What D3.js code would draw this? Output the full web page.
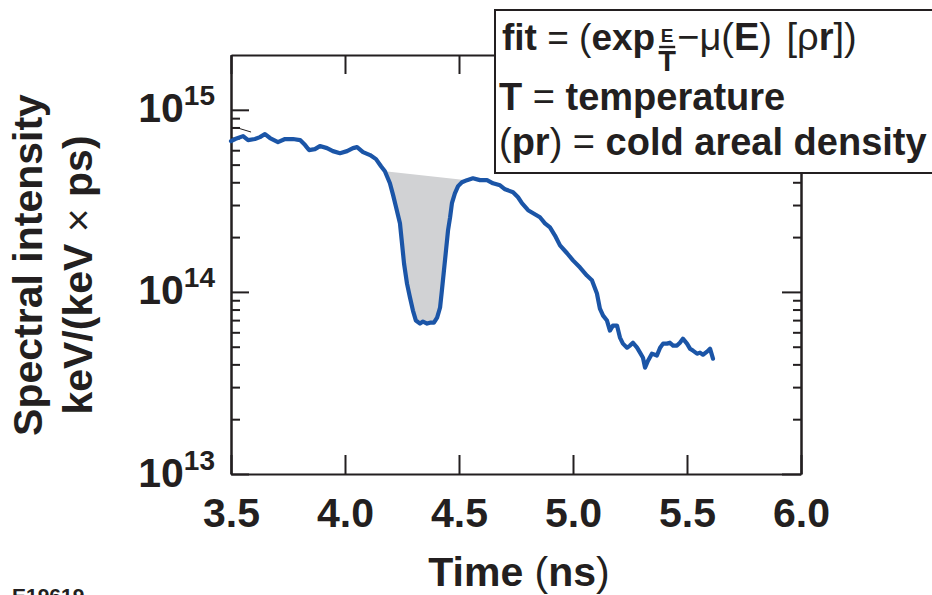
<!DOCTYPE html>
<html>
<head>
<meta charset="utf-8">
<script src="https://cdn.jsdelivr.net/npm/d3@7"></script>
<style>
  html, body { margin: 0; padding: 0; background: #fff; }
  svg { display: block; }
  text { font-family: "Liberation Sans", Arial, Helvetica, sans-serif; }
</style>
</head>
<body>
<svg id="chart" width="932" height="595"></svg>
<script>
// Measured spectral intensity, keV/(keV x ps), against time in ns
const timeNs = [
  3.500, 3.518, 3.553, 3.575, 3.605, 3.627, 3.649, 3.671, 3.706, 3.737,
  3.772, 3.803, 3.825, 3.842, 3.868, 3.890, 3.921, 3.947, 3.978, 4.009,
  4.035, 4.053, 4.079, 4.110, 4.136, 4.158, 4.175, 4.197, 4.211, 4.224,
  4.241, 4.250, 4.259, 4.272, 4.285, 4.298, 4.311, 4.329, 4.342, 4.360,
  4.373, 4.390, 4.404, 4.417, 4.425, 4.434, 4.443, 4.452, 4.461, 4.469,
  4.482, 4.496, 4.513, 4.535, 4.561, 4.592, 4.623, 4.649, 4.680, 4.702,
  4.737, 4.759, 4.776, 4.803, 4.842, 4.855, 4.877, 4.899, 4.921, 4.943,
  4.974, 5.000, 5.031, 5.061, 5.083, 5.105, 5.118, 5.132, 5.149, 5.162,
  5.175, 5.193, 5.206, 5.219, 5.237, 5.250, 5.263, 5.281, 5.294, 5.307,
  5.316, 5.329, 5.346, 5.368, 5.382, 5.395, 5.412, 5.425, 5.439, 5.456,
  5.469, 5.482, 5.500, 5.513, 5.526, 5.544, 5.557, 5.570, 5.588, 5.601,
  5.614
];
const intensity = [
  6.73e14, 6.91e14, 7.17e14, 6.82e14, 6.91e14, 7.08e14, 7.36e14, 7.00e14, 6.65e14, 6.91e14,
  6.91e14, 6.82e14, 6.40e14, 6.01e14, 6.08e14, 6.32e14, 6.16e14, 5.93e14, 5.78e14, 5.93e14,
  6.16e14, 6.24e14, 5.86e14, 5.64e14, 5.36e14, 4.90e14, 4.60e14, 3.95e14, 3.40e14, 2.92e14,
  2.38e14, 1.85e14, 1.43e14, 1.11e14, 9.32e13, 7.90e13, 6.96e13, 6.70e13, 6.87e13, 6.70e13,
  6.78e13, 6.78e13, 7.23e13, 8.21e13, 1.018e14, 1.31e14, 1.69e14, 2.18e14, 2.57e14, 3.07e14,
  3.48e14, 3.81e14, 4.00e14, 4.11e14, 4.21e14, 4.11e14, 4.11e14, 3.95e14, 3.85e14, 3.66e14,
  3.53e14, 3.31e14, 3.07e14, 2.81e14, 2.63e14, 2.57e14, 2.38e14, 2.26e14, 2.04e14, 1.80e14,
  1.63e14, 1.49e14, 1.36e14, 1.23e14, 1.16e14, 9.80e13, 8.10e13, 7.41e13, 6.96e13, 6.13e13,
  6.53e13, 6.53e13, 5.61e13, 5.20e13, 4.94e13, 5.07e13, 5.26e13, 4.94e13, 4.64e13, 4.35e13,
  3.84e13, 4.19e13, 4.58e13, 4.47e13, 4.94e13, 5.20e13, 5.20e13, 5.26e13, 5.07e13, 5.07e13,
  5.26e13, 5.54e13, 5.20e13, 4.88e13, 4.76e13, 4.58e13, 4.64e13, 4.52e13, 4.70e13, 4.88e13,
  4.30e13
];

// Axis ticks
const xTicks = [3.5, 4.0, 4.5, 5.0, 5.5, 6.0];
const yMajor = [1e13, 1e14, 1e15];
const yMinor = [2e13, 3e13, 4e13, 5e13, 6e13, 7e13, 8e13, 9e13,
                2e14, 3e14, 4e14, 5e14, 6e14, 7e14, 8e14, 9e14];
const yMajorExp = ["13", "14", "15"];

// Absorption dip bounded by the fitted continuum chord
const dipWindow = [4.175, 4.535];
// Short fit segment at the start of the record
const fitStubT = [3.522, 3.588];
const fitStubV = [8.0e14, 7.55e14];

const AXIS = "#231f20";
const LINE = "#1b55a7";
const FONT = '"Liberation Sans", Arial, Helvetica, sans-serif';

const svg = d3.select("#chart");
const plotL = 231, plotR = 801, plotT = 55, plotB = 474;

const x = d3.scaleLinear().domain([3.5, 6.0]).range([plotL, plotR]);
const y = d3.scaleLog().domain([1e13, 2e15]).range([plotB, plotT]);

const data = timeNs.map((t, i) => ({ t, v: intensity[i] }));

// Shaded dip: curve between the window ends, closed by a straight chord
const dip = data.filter(d => d.t >= dipWindow[0] && d.t <= dipWindow[1]);
svg.append("path")
  .attr("d", d3.line().x(d => x(d.t)).y(d => y(d.v))(dip) + "Z")
  .attr("fill", "#d1d2d4")
  .attr("stroke", "none");

function styleAxis(g) {
  g.attr("font-family", FONT).attr("font-weight", "bold").attr("fill", AXIS);
  g.selectAll("path, line").attr("stroke", AXIS).attr("stroke-width", 2);
}

// Bottom axis with labels
const gx = svg.append("g").attr("transform", `translate(0,${plotB})`)
  .call(d3.axisBottom(x).tickValues(xTicks).tickSizeInner(-19).tickSizeOuter(0)
    .tickPadding(24).tickFormat(d3.format(".1f")));
styleAxis(gx);
gx.attr("font-size", 41);
gx.selectAll("text").attr("fill", AXIS);

// Top axis
const gxt = svg.append("g").attr("transform", `translate(0,${plotT})`)
  .call(d3.axisTop(x).tickValues(xTicks).tickSizeInner(-19).tickSizeOuter(0).tickFormat(""));
styleAxis(gxt);

// Left axis: major ticks with power-of-ten labels
const gy = svg.append("g").attr("transform", `translate(${plotL},0)`)
  .call(d3.axisLeft(y).tickValues(yMajor).tickSizeInner(-18).tickSizeOuter(0)
    .tickPadding(16).tickFormat(() => ""));
styleAxis(gy);
gy.selectAll(".tick text").each(function (d, i) {
  const t = d3.select(this).attr("fill", AXIS).attr("dy", null).attr("y", 12);
  t.append("tspan").attr("font-size", 41).text("10");
  t.append("tspan").attr("font-size", 28).attr("dy", -17).text(yMajorExp[i]);
});
const gym = svg.append("g").attr("transform", `translate(${plotL},0)`)
  .call(d3.axisLeft(y).tickValues(yMinor).tickSizeInner(-9).tickSizeOuter(0).tickFormat(""));
styleAxis(gym);

// Right axis
const gr = svg.append("g").attr("transform", `translate(${plotR},0)`)
  .call(d3.axisRight(y).tickValues(yMajor).tickSizeInner(-19).tickSizeOuter(0).tickFormat(""));
styleAxis(gr);
const grm = svg.append("g").attr("transform", `translate(${plotR},0)`)
  .call(d3.axisRight(y).tickValues(yMinor).tickSizeInner(-8).tickSizeOuter(0).tickFormat(""));
styleAxis(grm);

// Fit segment
svg.append("path")
  .attr("d", d3.line().x((d, i) => x(fitStubT[i])).y(d => y(d))(fitStubV))
  .attr("stroke", AXIS).attr("stroke-width", 1).attr("fill", "none");

// Measured curve
svg.append("path")
  .attr("d", d3.line().x(d => x(d.t)).y(d => y(d.v))(data))
  .attr("fill", "none")
  .attr("stroke", LINE)
  .attr("stroke-width", 4.2)
  .attr("stroke-linejoin", "round")
  .attr("stroke-linecap", "round");

// Axis titles
svg.append("text")
  .attr("x", (plotL + plotR) / 2 + 3).attr("y", 586)
  .attr("text-anchor", "middle").attr("font-size", 41).attr("font-weight", "bold")
  .attr("fill", AXIS)
  .call(t => {
    t.append("tspan").text("Time ");
    t.append("tspan").attr("font-weight", "normal").text("(");
    t.append("tspan").text("ns");
    t.append("tspan").attr("font-weight", "normal").text(")");
  });

svg.append("text")
  .attr("transform", "translate(42,265) rotate(-90)")
  .attr("text-anchor", "middle").attr("font-size", 41).attr("font-weight", "bold")
  .attr("fill", AXIS).text("Spectral intensity");
svg.append("text")
  .attr("transform", "translate(92,275) rotate(-90)")
  .attr("text-anchor", "middle").attr("font-size", 41).attr("font-weight", "bold")
  .attr("fill", AXIS)
  .call(t => {
    t.append("tspan").text("keV/(keV ");
    t.append("tspan").attr("font-weight", "normal").text("\u00d7");
    t.append("tspan").text(" ps)");
  });

// Figure id
svg.append("text").attr("x", 12).attr("y", 603)
  .attr("font-size", 21).attr("font-weight", "bold").attr("fill", AXIS).text("E19619");

// Legend box
const lg = svg.append("g");
lg.append("rect").attr("x", 495).attr("y", 10).attr("width", 460).attr("height", 163)
  .attr("fill", "#fff").attr("stroke", AXIS).attr("stroke-width", 2);

// First line: fit = (exp E/T − μ(E) [ρr]); the fraction sits in a gap after "exp"
const l1a = lg.append("text").attr("x", 502).attr("y", 50)
  .attr("font-size", 37).attr("font-weight", "bold").attr("fill", AXIS);
l1a.append("tspan").text("fit ");
l1a.append("tspan").attr("font-weight", "normal").text("= (");
l1a.append("tspan").text("exp");
const expEnd = 502 + l1a.node().getComputedTextLength();
const fracX = expEnd + 12;

lg.append("text").attr("x", fracX).attr("y", 42).attr("text-anchor", "middle")
  .attr("font-size", 19).attr("font-weight", "bold").attr("fill", AXIS).text("E");
lg.append("line").attr("x1", fracX - 8).attr("x2", fracX + 8).attr("y1", 47).attr("y2", 47)
  .attr("stroke", AXIS).attr("stroke-width", 2.4);
lg.append("text").attr("x", fracX).attr("y", 71).attr("text-anchor", "middle")
  .attr("font-size", 29).attr("font-weight", "bold").attr("fill", AXIS).text("T");

const l1b = lg.append("text").attr("x", fracX + 10).attr("y", 50)
  .attr("font-size", 38).attr("font-weight", "bold").attr("fill", AXIS)
  .attr("word-spacing", 4);
l1b.append("tspan").attr("font-weight", "normal").text("\u2212\u03bc(");
l1b.append("tspan").text("E");
l1b.append("tspan").attr("font-weight", "normal").text(") [\u03c1");
l1b.append("tspan").text("r");
l1b.append("tspan").attr("font-weight", "normal").text("])");

const l2 = lg.append("text").attr("x", 499).attr("y", 110)
  .attr("font-size", 38).attr("font-weight", "bold").attr("fill", AXIS);
l2.append("tspan").text("T ");
l2.append("tspan").attr("font-weight", "normal").text("=");
l2.append("tspan").text(" temperature");

const l3 = lg.append("text").attr("x", 499).attr("y", 155)
  .attr("font-size", 38).attr("font-weight", "bold").attr("fill", AXIS);
l3.append("tspan").attr("font-weight", "normal").text("(");
l3.append("tspan").text("pr");
l3.append("tspan").attr("font-weight", "normal").text(") =");
l3.append("tspan").text(" cold areal density");
</script>
</body>
</html>
